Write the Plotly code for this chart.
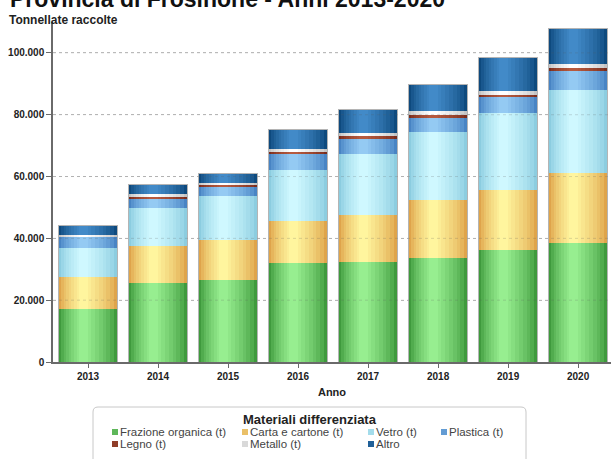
import plotly.graph_objects as go

# Tonnellate di raccolta differenziata per anno e materiale
years = ["2013", "2014", "2015", "2016", "2017", "2018", "2019", "2020"]
organica = [17200, 25400, 26600, 32100, 32200, 33700, 36200, 38600]
carta = [10400, 12200, 13000, 13600, 15400, 18700, 19500, 22500]
vetro = [9200, 12100, 14000, 16400, 19800, 22000, 24800, 26800]
plastica = [3700, 3000, 3300, 5400, 4900, 4600, 5100, 6200]
legno = [250, 1000, 450, 550, 850, 1050, 800, 950]
metallo = [300, 600, 650, 800, 1050, 1050, 1400, 1500]
altro = [3250, 3200, 3100, 6500, 7600, 8600, 10800, 11350]

series_names = ["Frazione organica (t)", "Carta e cartone (t)", "Vetro (t)",
                "Plastica (t)", "Legno (t)", "Metallo (t)", "Altro"]
series_values = [organica, carta, vetro, plastica, legno, metallo, altro]

y_ticks = [0, 20000, 40000, 60000, 80000, 100000]

# edge / centre colours used for the cylinder shading
edge_cols = ["#3f9a3d", "#dfa44b", "#8ccde0", "#4884c4", "#7a2d1d", "#c4c4c4", "#0e4a7e"]
mid_cols = ["#97ee90", "#fff59e", "#cff8ff", "#94caf3", "#b65a3f", "#ffffff", "#428ac8"]


def hex_rgb(h):
    h = h.lstrip("#")
    return [int(h[i:i + 2], 16) for i in (0, 2, 4)]


def mix(a, b, t):
    ca, cb = hex_rgb(a), hex_rgb(b)
    return "rgb({},{},{})".format(*[round(ca[i] + (cb[i] - ca[i]) * t) for i in range(3)])


BAR_W = 0.85
N_LAYERS = 9
X_RANGE = [-0.5, 7.47]

fig = go.Figure()
layout_axes = {}

for k in range(N_LAYERS):
    frac = 1.0 - k * (0.86 / (N_LAYERS - 1))
    t = (k / (N_LAYERS - 1)) ** 0.75
    w = BAR_W * frac
    centre = -0.09 * BAR_W * (1 - frac)
    ax = "x" if k == 0 else f"x{k + 1}"
    for name, vals, ec, mc in zip(series_names, series_values, edge_cols, mid_cols):
        fig.add_trace(go.Bar(
            x=years, y=vals, name=name, xaxis=ax, yaxis="y",
            width=w, offset=centre - w / 2,
            marker=dict(color=mix(ec, mc, t), line=dict(width=0)),
            showlegend=False, hoverinfo="skip" if k else "name+y",
        ))
    if k:
        layout_axes[f"xaxis{k + 1}"] = dict(overlaying="x", type="category", range=X_RANGE,
                                            visible=False, categoryorder="array",
                                            categoryarray=years)

# thin grey outline around each column
totals = [sum(v) for v in zip(*series_values)]
out_ax = N_LAYERS + 1
fig.add_trace(go.Bar(
    x=years, y=totals, xaxis=f"x{out_ax}", yaxis="y", width=BAR_W, offset=-BAR_W / 2,
    marker=dict(color="rgba(0,0,0,0)", line=dict(color="#b4b4b4", width=1)),
    showlegend=False, hoverinfo="skip",
))
layout_axes[f"xaxis{out_ax}"] = dict(overlaying="x", type="category", range=X_RANGE,
                                     visible=False, categoryorder="array", categoryarray=years)

# plot area in pixels: x 53..611, y 22..362
L, R, T, B = 53, 611, 22, 362


def px(x):
    return (x - L) / (R - L)


def py(y):
    return (B - y) / (B - T)


shapes = []
# faint dotted grid showing through the columns
for v in y_ticks[1:]:
    shapes.append(dict(type="line", xref="paper", yref="y", x0=0, x1=1, y0=v, y1=v,
                       line=dict(color="rgba(90,90,90,0.22)", width=1, dash="dot"),
                       layer="above"))

# legend box with rounded corners
bx0, bx1, by0, by1, r = 93, 526, 407, 475, 5
rx, ry = r / (R - L), r / (B - T)
path = (f"M{px(bx0) + rx},{py(by0)} L{px(bx1) - rx},{py(by0)} "
        f"Q{px(bx1)},{py(by0)} {px(bx1)},{py(by0) - ry} "
        f"L{px(bx1)},{py(by1) + ry} Q{px(bx1)},{py(by1)} {px(bx1) - rx},{py(by1)} "
        f"L{px(bx0) + rx},{py(by1)} Q{px(bx0)},{py(by1)} {px(bx0)},{py(by1) + ry} "
        f"L{px(bx0)},{py(by0) - ry} Q{px(bx0)},{py(by0)} {px(bx0) + rx},{py(by0)} Z")
shapes.append(dict(type="path", xref="paper", yref="paper", path=path,
                   line=dict(color="#c8c8c8", width=1), fillcolor="white", layer="above"))

annotations = [
    dict(text="<b>Provincia di Frosinone - Anni 2013-2020</b>", xref="paper", yref="paper",
         x=px(8), y=py(-1.5), xanchor="left", yanchor="middle", showarrow=False,
         font=dict(family="Liberation Sans, Arial", size=23, color="#111")),
    dict(text="<b>Tonnellate raccolte</b>", xref="paper", yref="paper",
         x=px(7), y=py(20), xanchor="left", yanchor="middle", showarrow=False,
         font=dict(family="Liberation Sans, Arial", size=12, color="#222")),
    dict(text="<b>Materiali differenziata</b>", xref="paper", yref="paper",
         x=px(309.5), y=py(419), xanchor="center", yanchor="middle", showarrow=False,
         font=dict(family="Liberation Sans, Arial", size=13, color="#222")),
]

# legend entries: column x of swatch, row y
leg_pos = [(112, 432), (242, 432), (368, 432), (441, 432),
           (112, 444), (242, 444), (368, 444)]
for (lx, ly), name, ec, mc in zip(leg_pos, series_names, edge_cols, mid_cols):
    shapes.append(dict(type="rect", xref="paper", yref="paper",
                       x0=px(lx), x1=px(lx + 6), y0=py(ly - 3), y1=py(ly + 3),
                       fillcolor=mix(ec, mc, 0.35), line=dict(width=0), layer="above"))
    annotations.append(dict(text=name, xref="paper", yref="paper", x=px(lx + 7), y=py(ly),
                            xanchor="left", yanchor="middle", showarrow=False, borderpad=0,
                            font=dict(family="Liberation Sans, Arial", size=11.5, color="#444")))

fig.update_layout(
    width=611, height=459,
    margin=dict(l=L, r=611 - R, t=T, b=459 - B, autoexpand=False),
    paper_bgcolor="white", plot_bgcolor="white",
    barmode="stack", bargap=0.15,
    separators=",.",
    showlegend=False,
    hovermode="closest",
    shapes=shapes,
    annotations=annotations,
    xaxis=dict(type="category", range=X_RANGE, categoryorder="array", categoryarray=years,
               showline=True, linecolor="#6a6a6a", linewidth=1.5,
               ticks="outside", ticklen=4, tickcolor="#6a6a6a", tickwidth=1,
               showgrid=False,
               tickfont=dict(family="Liberation Sans, Arial", size=10, color="#222", weight="bold"),
               title=dict(text="<b>Anno</b>", standoff=8,
                          font=dict(family="Liberation Sans, Arial", size=11, color="#222"))),
    yaxis=dict(range=[0, 110000], tickvals=y_ticks, tickformat=",d",
               showline=True, linecolor="#6a6a6a", linewidth=1.5,
               ticks="outside", ticklen=5, tickcolor="#6a6a6a", tickwidth=1,
               showgrid=True, gridcolor="#c9c9c9", griddash="dot", gridwidth=1,
               zeroline=False,
               tickfont=dict(family="Liberation Sans, Arial", size=10, color="#222", weight="bold")),
    **layout_axes,
)

fig.write_html("out.html")
